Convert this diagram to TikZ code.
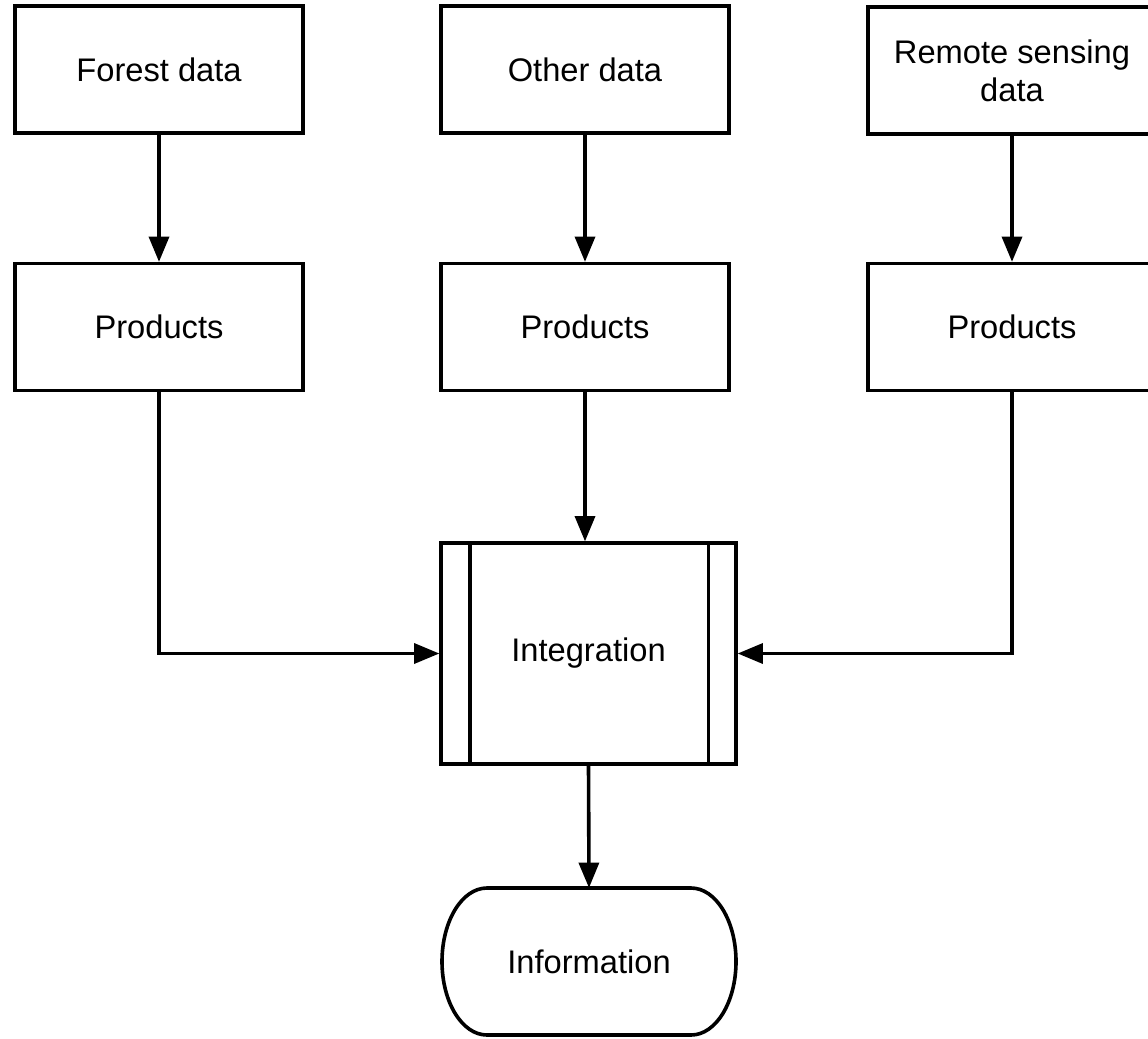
\documentclass[tikz,border=0pt]{standalone}
\usepackage{fontspec}
\setmainfont{Liberation Sans}
\usetikzlibrary{arrows.meta}
\begin{document}
\begin{tikzpicture}[x=0.75pt,y=-0.75pt,
  box/.style={draw=black,line width=2.7pt,fill=white,minimum width=216pt,minimum height=95pt,inner sep=0pt,align=center,font=\fontsize{24.5}{28.5}\selectfont},
  plain/.style={inner sep=0pt,align=center,font=\fontsize{24.5}{28.5}\selectfont},
  arr/.style={line width=2.7pt,-{Triangle[length=19pt,width=15pt]}},
  edge/.style={line width=2.7pt}]
\useasboundingbox (0,0) rectangle (1148,1038);
\node[box] (fd) at (159,69.5) {Forest data};
\node[box] (od) at (585,69.5) {Other data};
\node[box] (rd) at (1012,70.5) {Remote sensing\\data};
\node[box] (fp) at (159,327) {Products};
\node[box] (op) at (585,327) {Products};
\node[box] (rp) at (1012,327) {Products};
\node[box,minimum width=221pt,minimum height=165.5pt] (int) at (588.5,653.5) {Integration};
\draw[edge] ([xshift=23pt]int.north west) -- ([xshift=23pt]int.south west);
\draw[edge] ([xshift=-22pt]int.north east) -- ([xshift=-22pt]int.south east);
\node[plain,minimum width=220pt,minimum height=110pt] (info) at (589,961.5) {Information};
\draw[edge] (487,888) -- (691,888)
  .. controls (716,888) and (736,921) .. (736,961.5)
  .. controls (736,1002) and (716,1035) .. (691,1035)
  -- (487,1035)
  .. controls (462,1035) and (442,1002) .. (442,961.5)
  .. controls (442,921) and (462,888) .. (487,888) -- cycle;
\draw[arr] (fd) -- (fp);
\draw[arr] (od) -- (op);
\draw[arr] (rd) -- (rp);
\draw[arr] (op.south) -- (op.south |- int.north);
\draw[arr] (fp.south) |- (int.west);
\draw[arr] (rp.south) |- (int.east);
\draw[arr] (int.south) -- (info.north);
\end{tikzpicture}
\end{document}
